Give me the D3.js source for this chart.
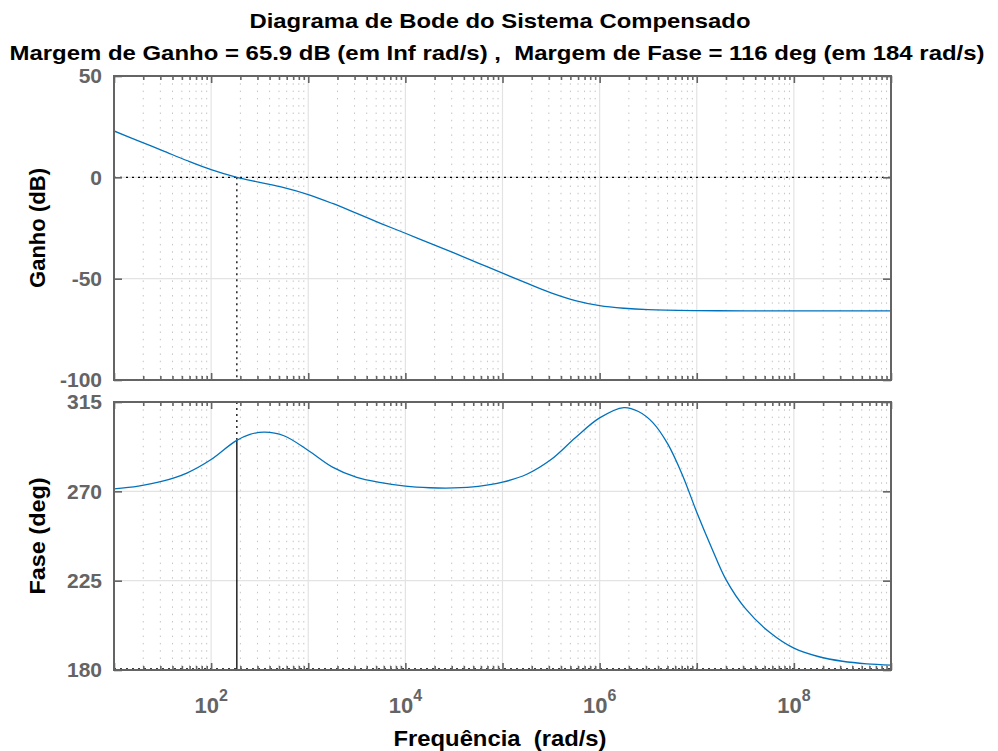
<!DOCTYPE html>
<html>
<head>
<meta charset="utf-8">
<script src="https://cdn.jsdelivr.net/npm/d3@7"></script>
<style>
  html, body { margin: 0; padding: 0; background: #fff; }
  svg { display: block; font-family: "Liberation Sans", Arial, sans-serif; }
</style>
</head>
<body>
<div id="chart"></div>
<script>
(function() {
  'use strict';

  // valores (rad/s, dB, graus)
  var
    magFreqs = [10, 17.8, 31.6, 56.2, 100, 184, 316, 562, 1000, 1778, 3162, 5623,
                1e4, 1.778e4, 3.162e4, 5.623e4, 1e5, 1.778e5, 3.162e5, 5.623e5,
                1e6, 1.778e6, 3.162e6, 1e7, 3.162e7, 1e8, 1e9],
    magDb = [22.9, 18.0, 13.2, 8.3, 3.8, 0, -2.5, -5.1, -8.5, -12.9, -17.8, -22.8,
             -27.6, -32.5, -37.3, -42.3, -47.3, -52.2, -57.0, -60.8,
             -63.3, -64.6, -65.3, -65.75, -65.88, -65.9, -65.9],

    phaseFreqs = [10, 17.8, 31.6, 56.2, 100, 178, 251, 355, 562, 1000, 1778, 3162, 5623,
                  1e4, 1.778e4, 3.162e4, 5.623e4, 1e5, 1.778e5, 3.162e5, 5.623e5,
                  1e6, 1.778e6, 2.51e6, 3.55e6, 5.01e6, 7.08e6, 1e7, 1.41e7, 2e7,
                  3.162e7, 5.623e7, 1e8, 1.778e8, 3.162e8, 5.623e8, 1e9],
    phaseDeg = [271.2, 272.6, 275.1, 279.2, 286.0, 295.3, 298.7, 299.8, 298.0, 290.6, 282.2, 277.0, 274.4,
                272.6, 271.8, 271.7, 272.5, 274.6, 278.6, 286.0, 297.0,
                307.0, 312.2, 310.2, 304.5, 294.0, 278.5, 259.5, 242.0, 225.5,
                211.0, 199.0, 191.0, 186.8, 184.4, 183.1, 182.5],

    magTicks = [50, 0, -50, -100],
    phaseTicks = [180, 225, 270, 315],
    freqLabelExps = [2, 4, 6, 8],

    crossFreq = 184,
    phaseMarginRef = 180,
    phaseAtCross = 296,

    titleLines = [
      'Diagrama de Bode do Sistema Compensado',
      'Margem de Ganho = 65.9 dB (em Inf rad/s) ,  Margem de Fase = 116 deg (em 184 rad/s)'
    ],
    xLabel = 'Frequência  (rad/s)',
    magLabel = 'Ganho (dB)',
    phaseLabel = 'Fase (deg)';

  var
    W = 998, H = 751,
    LEFT = 114, RIGHT = 891,
    AXIS_COLOR = '#646464',
    LINE_COLOR = '#0072bd',
    decades = d3.range(1, 10).map(function(e) { return Math.pow(10, e); }),
    minors = [];

  decades.slice(0, -1).forEach(function(d) {
    d3.range(2, 10).forEach(function(k) { minors.push(d * k); });
  });

  var svg = d3.select('#chart').append('svg')
    .attr('width', W)
    .attr('height', H);

  var x = d3.scaleLog().domain([1e1, 1e9]).range([LEFT, RIGHT]);

  function drawPanel(opts) {
    var y = d3.scaleLinear().domain(opts.domain).range([opts.bottom, opts.top]),
        g = svg.append('g'),
        clipId = 'clip-' + opts.name;

    g.append('clipPath').attr('id', clipId)
      .append('rect')
      .attr('x', LEFT).attr('y', opts.top)
      .attr('width', RIGHT - LEFT).attr('height', opts.bottom - opts.top);

    // grade menor (pontilhada)
    g.append('g').selectAll('line')
      .data(minors)
      .enter().append('line')
      .attr('x1', function(d) { return x(d); })
      .attr('x2', function(d) { return x(d); })
      .attr('y1', opts.top)
      .attr('y2', opts.bottom)
      .attr('stroke', '#c4c4c4')
      .attr('stroke-width', 1)
      .attr('stroke-dasharray', '1.5,5.8');

    // grade maior
    g.append('g').selectAll('line')
      .data(decades.slice(1, -1))
      .enter().append('line')
      .attr('x1', function(d) { return x(d); })
      .attr('x2', function(d) { return x(d); })
      .attr('y1', opts.top)
      .attr('y2', opts.bottom)
      .attr('stroke', '#e3e3e3')
      .attr('stroke-width', 1.2);

    g.append('g').selectAll('line')
      .data(opts.ticks)
      .enter().append('line')
      .attr('x1', LEFT)
      .attr('x2', RIGHT)
      .attr('y1', function(d) { return y(d); })
      .attr('y2', function(d) { return y(d); })
      .attr('stroke', '#e3e3e3')
      .attr('stroke-width', 1.2);

    opts.extras(g, y);

    var line = d3.line()
      .x(function(d) { return x(d[0]); })
      .y(function(d) { return y(d[1]); })
      .curve(d3.curveCatmullRom.alpha(0.5));

    g.append('path')
      .datum(d3.zip(opts.freqs, opts.values))
      .attr('clip-path', 'url(#' + clipId + ')')
      .attr('fill', 'none')
      .attr('stroke', LINE_COLOR)
      .attr('stroke-width', 1.3)
      .attr('d', line);

    // ticks para dentro
    function styleAxis(sel) {
      sel.select('.domain').remove();
      sel.selectAll('line').attr('stroke', AXIS_COLOR).attr('stroke-width', 1.6);
    }

    g.append('g').attr('transform', 'translate(0,' + opts.bottom + ')')
      .call(d3.axisBottom(x).tickValues(decades).tickSize(-7).tickFormat(''))
      .call(styleAxis);
    g.append('g').attr('transform', 'translate(0,' + opts.bottom + ')')
      .call(d3.axisBottom(x).tickValues(minors).tickSize(-4).tickFormat(''))
      .call(styleAxis);
    g.append('g').attr('transform', 'translate(0,' + opts.top + ')')
      .call(d3.axisTop(x).tickValues(decades).tickSize(-7).tickFormat(''))
      .call(styleAxis);
    g.append('g').attr('transform', 'translate(0,' + opts.top + ')')
      .call(d3.axisTop(x).tickValues(minors).tickSize(-4).tickFormat(''))
      .call(styleAxis);
    g.append('g').attr('transform', 'translate(' + RIGHT + ',0)')
      .call(d3.axisRight(y).tickValues(opts.ticks).tickSize(-8).tickFormat(''))
      .call(styleAxis);

    var yAxis = g.append('g').attr('transform', 'translate(' + LEFT + ',0)')
      .call(d3.axisLeft(y).tickValues(opts.ticks).tickSize(-8).tickPadding(12)
        .tickFormat(function(d) { return String(d); }))
      .call(styleAxis);
    yAxis.selectAll('text')
      .attr('fill', AXIS_COLOR)
      .attr('font-size', 21)
      .attr('font-weight', 'bold')
      .attr('font-family', '"Liberation Sans", Arial, sans-serif');

    g.append('rect')
      .attr('x', LEFT).attr('y', opts.top)
      .attr('width', RIGHT - LEFT).attr('height', opts.bottom - opts.top)
      .attr('fill', 'none')
      .attr('stroke', AXIS_COLOR)
      .attr('stroke-width', 2);

    g.append('text')
      .attr('transform', 'translate(45,' + (opts.top + opts.bottom) / 2 + ') rotate(-90)')
      .attr('text-anchor', 'middle')
      .attr('font-size', 22)
      .attr('font-weight', 'bold')
      .attr('fill', '#000')
      .attr('textLength', opts.labelLength)
      .attr('lengthAdjust', 'spacingAndGlyphs')
      .text(opts.label);

    return y;
  }

  drawPanel({
    name: 'mag', top: 76, bottom: 380,
    domain: [-100, 50], ticks: magTicks,
    freqs: magFreqs, values: magDb, label: magLabel, labelLength: 120,
    extras: function(g, y) {
      g.append('line')
        .attr('x1', LEFT).attr('x2', RIGHT)
        .attr('y1', y(0)).attr('y2', y(0))
        .attr('stroke', '#000').attr('stroke-width', 1.3)
        .attr('stroke-dasharray', '2,4');
      g.append('line')
        .attr('x1', x(crossFreq)).attr('x2', x(crossFreq))
        .attr('y1', y(0)).attr('y2', y(-100))
        .attr('stroke', '#000').attr('stroke-width', 1.3)
        .attr('stroke-dasharray', '2,4');
    }
  });

  drawPanel({
    name: 'phase', top: 402, bottom: 670,
    domain: [180, 315], ticks: phaseTicks,
    freqs: phaseFreqs, values: phaseDeg, label: phaseLabel, labelLength: 117,
    extras: function(g, y) {
      g.append('line')
        .attr('x1', LEFT).attr('x2', RIGHT)
        .attr('y1', y(phaseMarginRef) - 1).attr('y2', y(phaseMarginRef) - 1)
        .attr('stroke', '#000').attr('stroke-width', 1.3)
        .attr('stroke-dasharray', '2,4');
      g.append('line')
        .attr('x1', x(crossFreq)).attr('x2', x(crossFreq))
        .attr('y1', y(315)).attr('y2', y(phaseAtCross))
        .attr('stroke', '#000').attr('stroke-width', 1.3)
        .attr('stroke-dasharray', '2,4');
      g.append('line')
        .attr('x1', x(crossFreq)).attr('x2', x(crossFreq))
        .attr('y1', y(phaseAtCross)).attr('y2', y(phaseMarginRef))
        .attr('stroke', '#000').attr('stroke-width', 1.3);
    }
  });

  // rotulos do eixo x (10^n)
  var xl = svg.append('g').selectAll('text')
    .data(freqLabelExps)
    .enter().append('text')
    .attr('x', function(d) { return x(Math.pow(10, d)); })
    .attr('y', 713)
    .attr('text-anchor', 'middle')
    .attr('font-weight', 'bold')
    .attr('fill', AXIS_COLOR);
  xl.append('tspan').attr('font-size', 22).text('10');
  xl.append('tspan').attr('font-size', 16).attr('dy', -12)
    .text(function(d) { return d; });

  svg.append('text')
    .attr('x', 500).attr('y', 746)
    .attr('text-anchor', 'middle')
    .attr('font-size', 22)
    .attr('font-weight', 'bold')
    .attr('fill', '#000')
    .attr('textLength', 213)
    .attr('lengthAdjust', 'spacingAndGlyphs')
    .style('white-space', 'pre')
    .text(xLabel);

  svg.append('text')
    .attr('x', 500).attr('y', 28)
    .attr('text-anchor', 'middle')
    .attr('font-size', 21)
    .attr('font-weight', 'bold')
    .attr('textLength', 501)
    .attr('lengthAdjust', 'spacingAndGlyphs')
    .text(titleLines[0]);

  svg.append('text')
    .attr('x', 497).attr('y', 60)
    .attr('text-anchor', 'middle')
    .attr('font-size', 21)
    .attr('font-weight', 'bold')
    .attr('textLength', 975)
    .attr('lengthAdjust', 'spacingAndGlyphs')
    .style('white-space', 'pre')
    .text(titleLines[1]);
})();
</script>
</body>
</html>
